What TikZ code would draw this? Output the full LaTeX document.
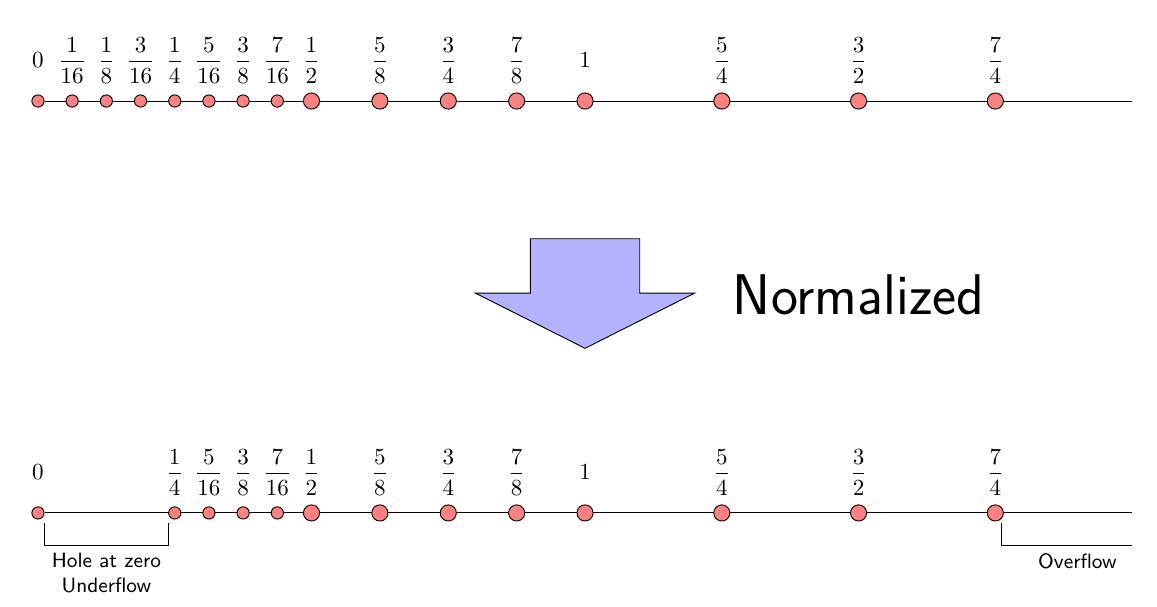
\documentclass[tikz,border=0pt]{standalone}
\usepackage{amsmath}
\usepackage{amssymb}
\usetikzlibrary{shapes}

\tikzset{
	smalldot/.style={circle,draw,fill=red!50,inner sep=0pt,minimum size=5.3pt},
	bigdot/.style={circle,draw,fill=red!50,inner sep=0pt,minimum size=7pt},
	note/.style={font=\sffamily\small,align=center}
}

\begin{document}
\begin{tikzpicture}[x=8.34cm]
			\useasboundingbox (-0.579cm,1.54cm) rectangle (17.06cm,-7.70cm);
			
			% before
			\coordinate (te) at (2,0);
			\node[smalldot] (t0) at (0,0) {};
			\draw (t0) -- (te);
			\node[smalldot] (t1) at (1/16,0) {};
			\node[smalldot] (t2) at (2/16,0) {};
			\node[smalldot] (t3) at (3/16,0) {};
			\node[smalldot] (t4) at (4/16,0) {};
			\node[smalldot] (t5) at (5/16,0) {};
			\node[smalldot] (t6) at (6/16,0) {};
			\node[smalldot] (t7) at (7/16,0) {};
			\node[bigdot] (t8) at (8/16,0) {};
			\node[bigdot] (t10) at (10/16,0) {};
			\node[bigdot] (t12) at (12/16,0) {};
			\node[bigdot] (t14) at (14/16,0) {};
			\node[bigdot] (t16) at (1,0) {};
			\node[bigdot] (t20) at (5/4,0) {};
			\node[bigdot] (t24) at (3/2,0) {};
			\node[bigdot] (t28) at (7/4,0) {};
			
			\node (lt0) at (0,0.62) {$0$};
			\node (lt1) at (1/16,0.62) {$\dfrac{1}{16}$};
			\node (lt2) at (2/16,0.62) {$\dfrac{1}{8}$};
			\node (lt3) at (3/16,0.62) {$\dfrac{3}{16}$};
			\node (lt4) at (4/16,0.62) {$\dfrac{1}{4}$};
			\node (lt5) at (5/16,0.62) {$\dfrac{5}{16}$};
			\node (lt6) at (6/16,0.62) {$\dfrac{3}{8}$};
			\node (lt7) at (7/16,0.62) {$\dfrac{7}{16}$};
			\node (lt8) at (8/16,0.62) {$\dfrac{1}{2}$};
			\node (lt10) at (10/16,0.62) {$\dfrac{5}{8}$};
			\node (lt12) at (12/16,0.62) {$\dfrac{3}{4}$};
			\node (lt14) at (14/16,0.62) {$\dfrac{7}{8}$};
			\node (lt16) at (1,0.62) {$1$};
			\node (lt20) at (5/4,0.62) {$\dfrac{5}{4}$};
			\node (lt24) at (3/2,0.62) {$\dfrac{3}{2}$};
			\node (lt28) at (7/4,0.62) {$\dfrac{7}{4}$};
			
			% arrow
			\draw[fill=blue!30] (0.9,-2.1) -- (1.1,-2.1) -- (1.1,-2.93) -- (1.2,-2.93)
				-- (1,-3.77) -- (0.8,-2.93) -- (0.9,-2.93) -- cycle;
			\node[font=\sffamily\Huge] (norm) at (1.5,-2.95) {Normalized};
			
			% after
			\coordinate (be) at (2,-6.28);
			\node[smalldot] (b0) at (0,-6.28) {};
			\draw (b0) -- (be);
			\node[smalldot] (b4) at (4/16,-6.28) {};
			\node[smalldot] (b5) at (5/16,-6.28) {};
			\node[smalldot] (b6) at (6/16,-6.28) {};
			\node[smalldot] (b7) at (7/16,-6.28) {};
			\node[bigdot] (b8) at (8/16,-6.28) {};
			\node[bigdot] (b10) at (10/16,-6.28) {};
			\node[bigdot] (b12) at (12/16,-6.28) {};
			\node[bigdot] (b14) at (14/16,-6.28) {};
			\node[bigdot] (b16) at (1,-6.28) {};
			\node[bigdot] (b20) at (5/4,-6.28) {};
			\node[bigdot] (b24) at (3/2,-6.28) {};
			\node[bigdot] (b28) at (7/4,-6.28) {};
			
			\node (lb0) at (0,-5.66) {$0$};
			\node (lb4) at (4/16,-5.66) {$\dfrac{1}{4}$};
			\node (lb5) at (5/16,-5.66) {$\dfrac{5}{16}$};
			\node (lb6) at (6/16,-5.66) {$\dfrac{3}{8}$};
			\node (lb7) at (7/16,-5.66) {$\dfrac{7}{16}$};
			\node (lb8) at (8/16,-5.66) {$\dfrac{1}{2}$};
			\node (lb10) at (10/16,-5.66) {$\dfrac{5}{8}$};
			\node (lb12) at (12/16,-5.66) {$\dfrac{3}{4}$};
			\node (lb14) at (14/16,-5.66) {$\dfrac{7}{8}$};
			\node (lb16) at (1,-5.66) {$1$};
			\node (lb20) at (5/4,-5.66) {$\dfrac{5}{4}$};
			\node (lb24) at (3/2,-5.66) {$\dfrac{3}{2}$};
			\node (lb28) at (7/4,-5.66) {$\dfrac{7}{4}$};
			
			% holes
			\coordinate (h1) at ([xshift=0.1cm,yshift=-0.15cm]b0.center);
			\coordinate (h2) at ([xshift=0.1cm,yshift=-0.49cm]b0.center);
			\coordinate (h3) at ([xshift=-0.1cm,yshift=-0.49cm]b4.center);
			\coordinate (h4) at ([xshift=-0.1cm,yshift=-0.15cm]b4.center);
			\draw (h1) -- (h2) -- node[note,below] (hole) {Hole at zero\\Underflow} (h3) -- (h4);
			\coordinate (o1) at ([xshift=0.1cm,yshift=-0.15cm]b28.center);
			\coordinate (o2) at ([xshift=0.1cm,yshift=-0.49cm]b28.center);
			\coordinate (o3) at ([yshift=-0.49cm]be);
			\draw (o1) -- (o2) -- node[note,below,pos=0.58] (over) {Overflow} (o3);
		\end{tikzpicture}
\end{document}
